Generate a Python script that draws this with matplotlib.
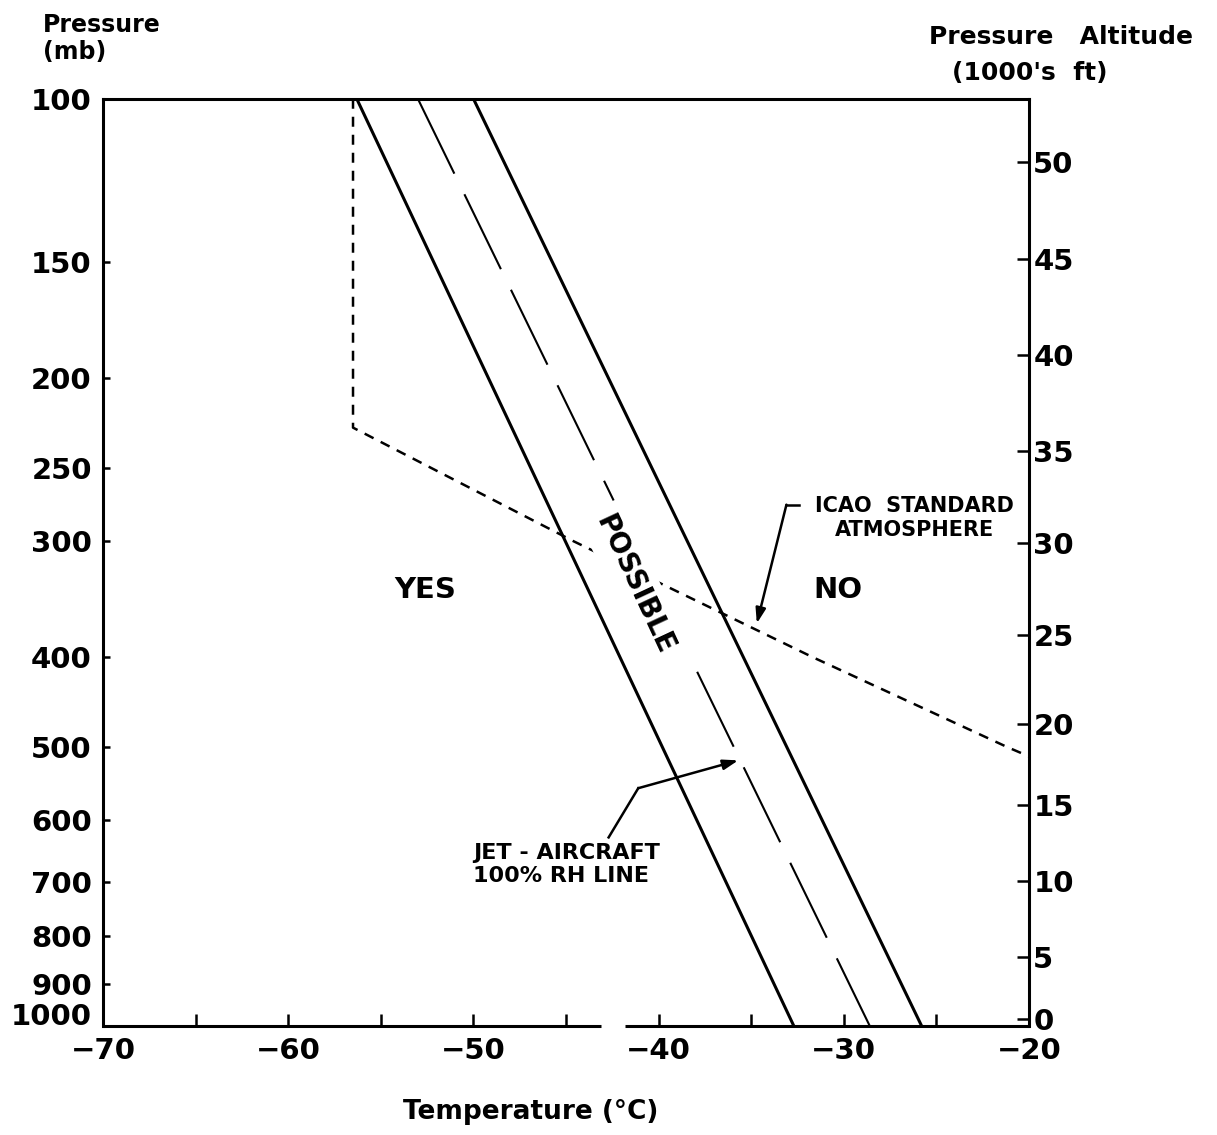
import numpy as np
import matplotlib
matplotlib.use("Agg")
import matplotlib.pyplot as plt
import matplotlib.transforms as mtransforms

# ── data ─────────────────────────────────────────────────────────────────────
P_ENDS      = [100, 1000]          # mb
JET_LEFT    = [-56.3, -32.7]       # °C, left boundary of "possible" band
JET_RH100   = [-53.0, -28.6]       # °C, jet-aircraft 100% RH line
JET_RIGHT   = [-50.0, -25.8]       # °C, right boundary

ICAO_P      = [100, 226.3, 250, 300, 400, 500, 512]
ICAO_T      = [-56.5, -56.5, -52.3, -44.6, -31.7, -21.2, -20.0]

P_TICKS     = [100, 150, 200, 250, 300, 400, 500, 600, 700, 800, 900, 1000]
T_MAJOR     = [-70, -60, -50, -40, -30, -20]
T_MINOR     = [-65, -55, -45, -35, -25]

ALT_KFT     = [0, 5, 10, 15, 20, 25, 30, 35, 40, 45, 50]
ALT_P_MB    = [983, 842, 697, 578, 472, 379, 301, 240, 189, 149, 117]

BOTTOM_GAP  = (-43.1, -41.8)       # break in the bottom axis line

plt.rcParams["font.family"] = "DejaVu Sans"
plt.rcParams["font.weight"] = "bold"

# ── figure ───────────────────────────────────────────────────────────────────
fig = plt.figure(figsize=(12.17, 11.35), dpi=100, facecolor="white")
ax = fig.add_axes([0.0846, 0.096, 0.761, 0.817])

ax.set_yscale("log")
ax.set_xlim(-70, -20)
ax.set_ylim(1000, 100)

# lines
ax.plot(JET_LEFT, P_ENDS, color="black", lw=2.2, solid_capstyle="butt")
ax.plot(JET_RIGHT, P_ENDS, color="black", lw=2.2, solid_capstyle="butt")
ax.plot(JET_RH100, P_ENDS, color="black", lw=1.5, linestyle=(0, (40, 11)))
ax.plot(ICAO_T, ICAO_P, color="black", lw=1.8, linestyle=(0, (4, 3.2)))

# axes styling
for side in ["left", "top", "right"]:
    ax.spines[side].set_linewidth(2.2)
ax.spines["bottom"].set_visible(False)
trans = mtransforms.blended_transform_factory(ax.transData, ax.transAxes)
ax.plot([-70, BOTTOM_GAP[0]], [0, 0], color="black", lw=2.2,
        transform=trans, clip_on=False, solid_capstyle="butt")
ax.plot([BOTTOM_GAP[1], -20], [0, 0], color="black", lw=2.2,
        transform=trans, clip_on=False, solid_capstyle="butt")

ax.set_xticks(T_MAJOR)
ax.set_xticklabels([f"\u2212{abs(t)}" for t in T_MAJOR])
ax.set_xticks(T_MINOR, minor=True)
ax.tick_params(axis="x", which="both", direction="in", length=9, width=1.8,
               labelsize=21, pad=8)

ax.yaxis.set_major_locator(matplotlib.ticker.FixedLocator(P_TICKS))
ax.yaxis.set_minor_locator(matplotlib.ticker.NullLocator())
ax.set_yticklabels([str(p) for p in P_TICKS])
ax.tick_params(axis="y", which="both", direction="in", length=5, width=1.8,
               labelsize=21, pad=8)
# "1000" sits a little above the corner so it clears "-70"
lift = mtransforms.ScaledTranslation(0, 9 / 72, fig.dpi_scale_trans)
lbl = ax.get_yticklabels()[-1]
lbl.set_transform(lbl.get_transform() + lift)

ax2 = ax.twinx()
ax2.set_yscale("log")
ax2.set_ylim(1000, 100)
ax2.yaxis.set_major_locator(matplotlib.ticker.FixedLocator(ALT_P_MB))
ax2.yaxis.set_minor_locator(matplotlib.ticker.NullLocator())
ax2.set_yticklabels([str(a) for a in ALT_KFT])
ax2.tick_params(axis="y", direction="in", length=9, width=1.8,
                labelsize=21, pad=3)
for s in ax2.spines.values():
    s.set_visible(False)

# annotations
ax.text(-52.6, 339, "YES", fontsize=21, ha="center", va="center")
ax.text(-30.3, 339, "NO", fontsize=21, ha="center", va="center")
# white box leaves the break in the dashed lines behind the word
ax.text(-41.3, 334, "POSSIBLE", fontsize=20, ha="center", va="center",
        rotation=-65, rotation_mode="anchor", zorder=5,
        bbox=dict(facecolor="white", edgecolor="none", pad=7))

ax.text(-26.2, 283, "ICAO  STANDARD\nATMOSPHERE", fontsize=15, ha="center",
        va="center", multialignment="center", linespacing=1.25)
ax.plot([-32.4, -33.1], [274, 274], color="black", lw=1.8)
ax.annotate("", xy=(-34.7, 368), xytext=(-33.1, 274),
            arrowprops=dict(arrowstyle="-|>,head_length=0.9,head_width=0.3",
                            color="black", lw=1.8, shrinkA=0, shrinkB=0))

ax.text(-50.0, 670, "JET - AIRCRAFT\n100% RH LINE", fontsize=16, ha="left",
        va="center", multialignment="left", linespacing=1.2)
ax.plot([-42.7, -41.1], [626, 554], color="black", lw=1.8)
ax.annotate("", xy=(-35.7, 517), xytext=(-41.1, 554),
            arrowprops=dict(arrowstyle="-|>,head_length=0.9,head_width=0.3",
                            color="black", lw=1.8, shrinkA=0, shrinkB=0))

# headers
fig.text(0.035, 0.978, "Pressure", fontsize=17, ha="left", va="center")
fig.text(0.035, 0.954, "(mb)", fontsize=17, ha="left", va="center")
fig.text(0.872, 0.967, "Pressure   Altitude", fontsize=18, ha="center",
         va="center")
fig.text(0.846, 0.936, "(1000's  ft)", fontsize=18, ha="center",
         va="center")
fig.text(0.436, 0.020, "Temperature (°C)", fontsize=19, ha="center",
         va="center")

fig.savefig("out.png", dpi=100, facecolor="white")
